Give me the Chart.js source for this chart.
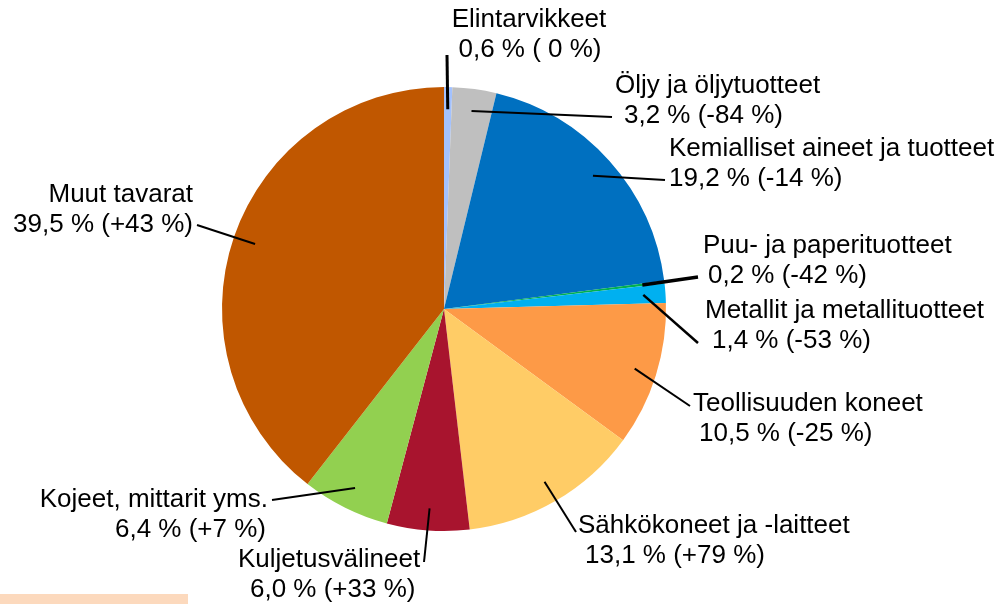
<!DOCTYPE html>
<html>
<head>
<meta charset="utf-8">
<script src="https://cdn.jsdelivr.net/npm/chart.js@4.4.0/dist/chart.umd.min.js"></script>
<style>
  html, body { margin: 0; padding: 0; background: #fff; }
  #wrap { position: relative; width: 1005px; height: 604px; overflow: hidden; }
  #strip { position: absolute; left: 0; top: 594px; width: 188px; height: 10px; background: #fcd9bd; }
</style>
</head>
<body>
<div id="wrap">
  <canvas id="pieChart" width="1005" height="604"></canvas>
  <div id="strip"></div>
</div>
<script>
// Tavararyhmät, osuus (%) ja muutos (%)
const categories = [
    'Elintarvikkeet',
    'Öljy ja öljytuotteet',
    'Kemialliset aineet ja tuotteet',
    'Puu- ja paperituotteet',
    'Metallit ja metallituotteet',
    'Teollisuuden koneet',
    'Sähkökoneet ja -laitteet',
    'Kuljetusvälineet',
    'Kojeet, mittarit yms.',
    'Muut tavarat',
];
const shares = [0.6, 3.2, 19.2, 0.2, 1.4, 10.5, 13.1, 6.0, 6.4, 39.5];
const changes = [' 0', '-84', '-14', '-42', '-53', '-25', '+79', '+33', '+7', '+43'];
const colors = ['#a3c2ff', '#bfbfbf', '#0070c0', '#00b050', '#00b0f0', '#fd9a47', '#ffcc66', '#a8142e', '#92d050', '#c05700'];

// Selitteiden sijoittelu (x, y = ensimmäisen rivin keskikohta), viivan päätepiste
const labelLayout = [
    { x: 529, y: 20, align: 'center', dx2: 1, ex: 447, ey: 55, lw: 3 },
    { x: 615, y: 86, align: 'left', dx2: 9, ex: 612, ey: 117, lw: 2 },
    { x: 669, y: 149, align: 'left', dx2: 0, ex: 665, ey: 180, lw: 2 },
    { x: 703, y: 246, align: 'left', dx2: 5, ex: 698, ey: 277, lw: 3.5 },
    { x: 705, y: 311, align: 'left', dx2: 7, ex: 698, ey: 343, lw: 2.5 },
    { x: 693, y: 404, align: 'left', dx2: 6, ex: 690, ey: 406, lw: 2 },
    { x: 578, y: 526, align: 'left', dx2: 7, ex: 576, ey: 532, lw: 2 },
    { x: 238, y: 560, align: 'left', dx2: 12, ex: 424, ey: 562, lw: 2 },
    { x: 268, y: 500, align: 'right', dx2: -2, ex: 272, ey: 500, lw: 2 },
    { x: 193, y: 195, align: 'right', dx2: 0, ex: 197, ey: 225, lw: 2 },
];

function shareText(i) {
    return shares[i].toFixed(1).replace('.', ',') + ' % (' + changes[i] + ' %)';
}

const leaderLabels = {
    id: 'leaderLabels',
    afterDatasetsDraw(chart) {
        const ctx = chart.ctx;
        const arcs = chart.getDatasetMeta(0).data;
        ctx.save();
        ctx.fillStyle = '#000';
        ctx.strokeStyle = '#000';
        ctx.font = '26px "Liberation Sans", Arial, sans-serif';
        ctx.textBaseline = 'middle';
        arcs.forEach((arc, i) => {
            const p = labelLayout[i];
            const mid = (arc.startAngle + arc.endAngle) / 2;
            const r = arc.outerRadius * 0.9;
            ctx.beginPath();
            ctx.lineWidth = p.lw;
            ctx.moveTo(arc.x + Math.cos(mid) * r, arc.y + Math.sin(mid) * r);
            ctx.lineTo(p.ex, p.ey);
            ctx.stroke();
            ctx.textAlign = p.align;
            ctx.fillText(categories[i], p.x, p.y);
            ctx.fillText(shareText(i), p.x + p.dx2, p.y + 29.5);
        });
        ctx.restore();
    }
};

new Chart(document.getElementById('pieChart').getContext('2d'), {
    type: 'pie',
    data: {
        labels: categories,
        datasets: [{
            data: shares,
            backgroundColor: colors,
            borderWidth: 0,
        }],
    },
    options: {
        responsive: false,
        animation: false,
        layout: {
            padding: { left: 222, right: 339, top: 87, bottom: 73 },
        },
        plugins: {
            legend: { display: false },
            tooltip: { enabled: false },
        },
    },
    plugins: [leaderLabels],
});
</script>
</body>
</html>
